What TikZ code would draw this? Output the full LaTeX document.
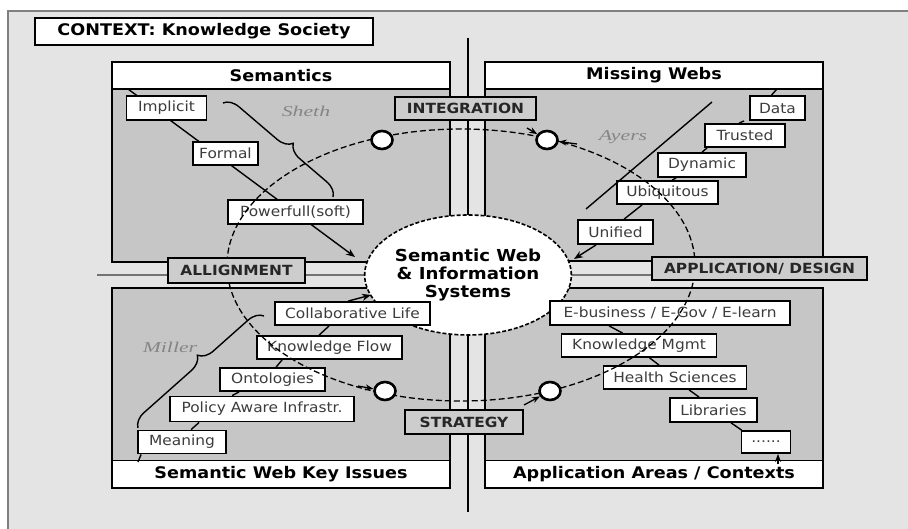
\documentclass[tikz,border=0pt]{standalone}
\usepackage{fontspec}
\setmainfont[FakeStretch=1.1]{DejaVu Sans}
\newfontfamily\authfont[FakeStretch=1.45]{Liberation Serif}
\usetikzlibrary{arrows.meta,decorations.pathreplacing,shapes.geometric}
\definecolor{bgc}{HTML}{E4E4E4}
\definecolor{quadc}{HTML}{C6C6C6}
\definecolor{labc}{HTML}{CDCDCD}
\definecolor{txtc}{HTML}{3C3C3C}
\definecolor{authc}{HTML}{858585}
\begin{document}
\begin{tikzpicture}[x=1pt,y=-1pt,
  quad/.style={draw=black, line width=1.4pt, fill=quadc},
  titlebar/.style={draw=black, line width=1.4pt, fill=white, inner sep=0pt, minimum width=338pt, minimum height=27pt, font=\fontsize{16}{18}\selectfont\bfseries},
  itembox/.style={draw=black, line width=1.8pt, fill=white, inner sep=0pt, text=txtc, font=\fontsize{14}{16}\selectfont},
  crosslabel/.style={draw=black, line width=1.6pt, fill=labc, inner sep=0pt, text=black!85, font=\fontsize{14}{16}\selectfont\bfseries},
  link/.style={line width=1.4pt},
  arr/.style={line width=1.4pt, -{Stealth[length=9pt,width=7pt]}},
  tipline/.style={line width=1.3pt, -{Stealth[length=8pt,width=6pt]}},
  cyc/.style={line width=1.3pt, dash pattern=on 6pt off 3pt},
  hubdot/.style={draw=black, line width=2.6pt, fill=white, ellipse, minimum width=21pt, minimum height=18pt, inner sep=0pt},
  auth/.style={text=authc, font=\authfont\itshape\fontsize{15}{17}\selectfont},
  bracestyle/.style={line width=1.4pt, decorate, decoration={brace, amplitude=15pt, aspect=0.55}},
]
% page and frame
\path[use as bounding box] (0,0) rectangle (908,529);
\fill[white] (0,0) rectangle (908,529);
\fill[bgc] (8,11) rectangle (908,529);
\draw[gray, line width=1.5pt] (8,529) -- (8,11) -- (908,11);

% context label
\node[draw=black, line width=1.6pt, fill=white, minimum width=338pt, minimum height=27pt, inner sep=0pt, font=\fontsize{16}{18}\selectfont\bfseries] (context) at (204,31.5) {CONTEXT: Knowledge Society};

% axes
\coordinate (vtop) at (468,38);
\coordinate (vbot) at (468,512);
\coordinate (hleft) at (97,275);
\coordinate (hright) at (866,275);
\draw[line width=1.3pt] (vtop) -- (vbot);
\draw[line width=1.1pt, black!55] (hleft) -- (hright);

% quadrants
\draw[quad] (112,62) rectangle (450,262);
\node[titlebar] (semT) at (281,75.5) {Semantics};
\draw[quad] (485,62) rectangle (823,261);
\node[titlebar] (mwT) at (654,75.5) {Missing Webs};
\draw[quad] (112,288) rectangle (450,488);
\node[titlebar] (kiT) at (281,474) {Semantic Web Key Issues};
\draw[quad] (485,288) rectangle (823,488);
\node[titlebar] (aaT) at (654,474) {Application Areas / Contexts};

% hub
\node[ellipse, draw=black, line width=1.6pt, dash pattern=on 4pt off 2pt, fill=white, minimum width=180pt, minimum height=120pt, inner sep=0pt, align=center, font=\fontsize{16.5}{18}\selectfont\bfseries] (hub) at (468,275) {Semantic Web\\\& Information\\Systems};

% Semantics: straight arrow behind boxes
\coordinate (s0) at (128,89);
\coordinate (s1) at (355,257);
\draw[arr] (s0) -- (s1);

% items
\node[itembox, minimum width=80pt, minimum height=24pt] (imp) at (166.5,108) {Implicit};
\node[itembox, minimum width=65pt, minimum height=23pt] (form) at (225.5,153.5) {Formal};
\node[itembox, minimum width=135pt, minimum height=24pt] (pow) at (295.5,212) {Powerfull(soft)};

\node[itembox, minimum width=55pt, minimum height=24pt] (data) at (777.5,108) {Data};
\node[itembox, minimum width=80pt, minimum height=23pt] (trus) at (745,135.5) {Trusted};
\node[itembox, minimum width=88pt, minimum height=24pt] (dyn) at (702,165) {Dynamic};
\node[itembox, minimum width=101pt, minimum height=23pt] (ubiq) at (667.5,192.5) {Ubiquitous};
\node[itembox, minimum width=75pt, minimum height=24pt] (unif) at (615.5,232) {Unified};

\node[itembox, minimum width=155pt, minimum height=23pt] (coll) at (352.5,313.5) {Collaborative Life};
\node[itembox, minimum width=145pt, minimum height=23pt] (kflow) at (329.5,347.5) {Knowledge Flow};
\node[itembox, minimum width=105pt, minimum height=23pt] (onto) at (272.5,379.5) {Ontologies};
\node[itembox, minimum width=184pt, minimum height=25pt] (pol) at (262,409) {Policy Aware Infrastr.};
\node[itembox, minimum width=88pt, minimum height=23pt] (mean) at (182,442) {Meaning};

\node[itembox, minimum width=240pt, minimum height=24pt] (ebiz) at (670,313) {E-business / E-Gov / E-learn};
\node[itembox, minimum width=155pt, minimum height=23pt] (km) at (639,345.5) {Knowledge Mgmt};
\node[itembox, minimum width=143pt, minimum height=23pt] (hs) at (675,377.5) {Health Sciences};
\node[itembox, minimum width=87pt, minimum height=24pt] (lib) at (713.5,410) {Libraries};
\node[itembox, minimum width=49pt, minimum height=22pt] (dots) at (766,442) {......};

% Missing Webs chain
\coordinate (m0) at (777,89);
\coordinate (m1) at (574,259);
\draw[link] (m0) -- ([xshift=-6pt]data.north);
\draw[link] ([xshift=-5pt]data.south west) -- ([xshift=35pt]trus.north west);
\draw[link] ([xshift=3pt]trus.south west) -- ([xshift=45pt]dyn.north west);
\draw[link] ([xshift=19pt]dyn.south west) -- ([xshift=56pt]ubiq.north west);
\draw[link] ([xshift=26pt]ubiq.south west) -- ([xshift=47pt]unif.north west);
\draw[arr] ([xshift=19pt]unif.south west) -- (m1);

% Key issues chain
\coordinate (k0) at (138,462);
\coordinate (k1) at (371,295);
\draw[link] (k0) -- ([xshift=4pt]mean.south west);
\draw[link] ([xshift=54pt]mean.north west) -- ([xshift=30pt]pol.south west);
\draw[link] ([xshift=63pt]pol.north west) -- ([xshift=20pt]onto.south west);
\draw[link] ([xshift=57pt]onto.north west) -- ([xshift=26pt]kflow.south west);
\draw[link] ([xshift=63pt]kflow.north west) -- ([xshift=55pt]coll.south west);
\draw[arr] ([xshift=74pt]coll.north west) -- (k1);

% Application chain
\draw[link] ([xshift=60pt]ebiz.south west) -- ([xshift=62pt]km.north west);
\draw[link] ([xshift=89pt]km.south west) -- ([xshift=56.5pt]hs.north west);
\draw[link] ([xshift=86.5pt]hs.south west) -- ([xshift=30pt]lib.north west);
\draw[link] ([xshift=62pt]lib.south west) -- ([xshift=1pt]dots.north west);
\coordinate (a1) at (778,464);
\draw[tipline] (a1) -- ([xshift=12pt]dots.south);

% braces and authors
\coordinate (sh0) at (223,103);
\coordinate (sh1) at (333,197);
\draw[bracestyle] (sh0) -- (sh1);
\node[auth] (sheth) at (306,111) {Sheth};
\coordinate (ay0) at (712,102);
\coordinate (ay1) at (586,209);
\draw[link] (ay0) -- (ay1);
\node[auth] (ayers) at (623,137) {Ayers};
\coordinate (mi0) at (138,428);
\coordinate (mi1) at (264,316);
\draw[bracestyle] (mi0) -- (mi1);
\node[auth] (miller) at (170,347) {Miller};

% cycle
\coordinate (cc) at (461,265);
\draw[cyc] (cc) ellipse [x radius=234, y radius=136];
\node[hubdot] (sc1) at (382,140) {};
\node[hubdot] (sc2) at (547,140) {};
\node[hubdot] (sc3) at (385,391) {};
\node[hubdot] (sc4) at (550,391) {};
\coordinate (ta1) at (527,128);
\coordinate (ta2) at (577,144);
\coordinate (ta3) at (358,386);
\coordinate (ta4) at (524,405);
\draw[tipline] (ta1) -- (sc2);
\draw[tipline] (ta2) -- (sc2);
\draw[tipline] (ta3) -- (sc3);
\draw[tipline] (ta4) -- (sc4);

% cross labels
\node[crosslabel, minimum width=141pt, minimum height=23pt] (integ) at (465.5,108.5) {INTEGRATION};
\node[crosslabel, minimum width=137pt, minimum height=25pt] (allign) at (236.5,270.5) {ALLIGNMENT};
\node[crosslabel, minimum width=215pt, minimum height=23pt] (appdes) at (759.5,268.5) {APPLICATION/ DESIGN};
\node[crosslabel, minimum width=118pt, minimum height=24pt] (strat) at (464,422) {STRATEGY};
\end{tikzpicture}
\end{document}
